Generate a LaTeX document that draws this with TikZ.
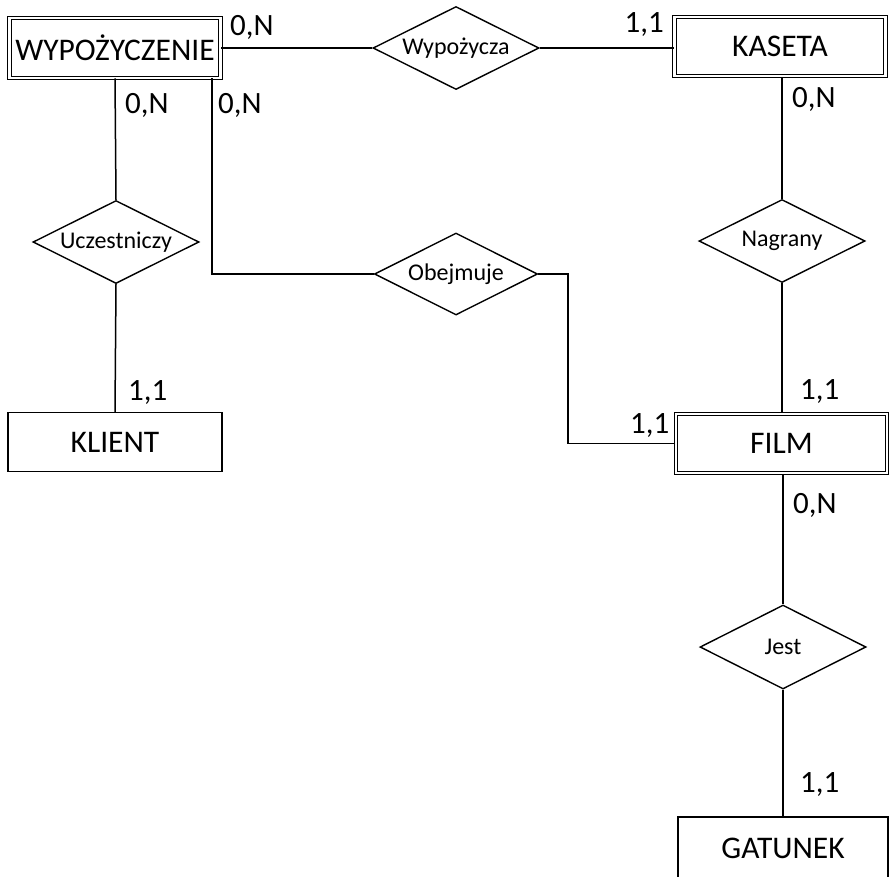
\documentclass[tikz,border=0pt]{standalone}
\usepackage{fontspec}
\setmainfont{Carlito}
\usetikzlibrary{shapes.geometric}
\begin{document}
\begin{tikzpicture}[x=1pt,y=-1pt,
  entity/.style={draw, line width=1.4pt, inner sep=0pt,
    minimum width=212pt, minimum height=59pt,
    font=\fontsize{31.5}{32}\selectfont},
  weak/.style={draw, double, double distance=2.2pt, line width=1.1pt,
    inner sep=0pt, minimum width=211pt, minimum height=59.5pt,
    font=\fontsize{31.5}{32}\selectfont},
  rel/.style={draw, diamond, aspect=2, line width=1.4pt, inner sep=0pt,
    minimum width=166pt, minimum height=83pt,
    font=\fontsize{24}{26}\selectfont},
  card/.style={inner sep=0pt, font=\fontsize{31}{32}\selectfont},
  link/.style={line width=1.5pt}]
\useasboundingbox (0,0) rectangle (890,876);

% entities
\node[weak] (wyp) at (115,48) {WYPOŻYCZENIE};
\node[weak] (kas) at (780,46.5) {KASETA};
\node[weak] (film) at (781.5,443.5) {FILM};
\node[entity, minimum width=214pt] (kli) at (115,442) {KLIENT};
\begin{scope}
  \clip (0,0) rectangle (890,876);
  \node[entity, minimum width=210pt, minimum height=63pt] (gat) at (783,848.5) {GATUNEK};
\end{scope}

% relationships
\node[rel] (wypo) at (456,48) {Wypożycza};
\node[rel] (ucz) at (116,242) {Uczestniczy};
\node[rel, minimum width=163pt, minimum height=82pt] (obj) at (456,274) {Obejmuje};
\node[rel] (nag) at (782,241) {Nagrany};
\node[rel, minimum height=84pt] (jest) at (783,647) {Jest};

% connectors
\draw[link] (wyp.east) -- (wypo.west);
\draw[link] (wypo.east) -- (kas.west |- wypo.east);
\draw[link] (wyp.south) -- (ucz.north);
\draw[link] (ucz.south) -- (kli.north);
\draw[link] ([xshift=-9pt]wyp.south east) |- (obj.west);
\draw[link] (obj.east) -- ++(30,0) |- (film.west);
\draw[link] (kas.south -| nag.north) -- (nag.north);
\draw[link] (nag.south) -- (film.north -| nag.south);
\draw[link] (film.south -| jest.north) -- (jest.north);
\draw[link] (jest.south) -- (gat.north -| jest.south);

% cardinalities
\node[card, anchor=base west] (c1) at (230,35) {0,N};
\node[card, anchor=base west] (c2) at (125,113) {0,N};
\node[card, anchor=base west] (c3) at (218,113) {0,N};
\node[card, anchor=base east] (c4) at (664,32) {1,1};
\node[card, anchor=base west] (c5) at (792,107) {0,N};
\node[card, anchor=base west] (c6) at (128,400) {1,1};
\node[card, anchor=base west] (c7) at (630,433) {1,1};
\node[card, anchor=base west] (c8) at (800,399) {1,1};
\node[card, anchor=base west] (c9) at (793,513) {0,N};
\node[card, anchor=base west] (c10) at (800,792) {1,1};
\end{tikzpicture}
\end{document}
